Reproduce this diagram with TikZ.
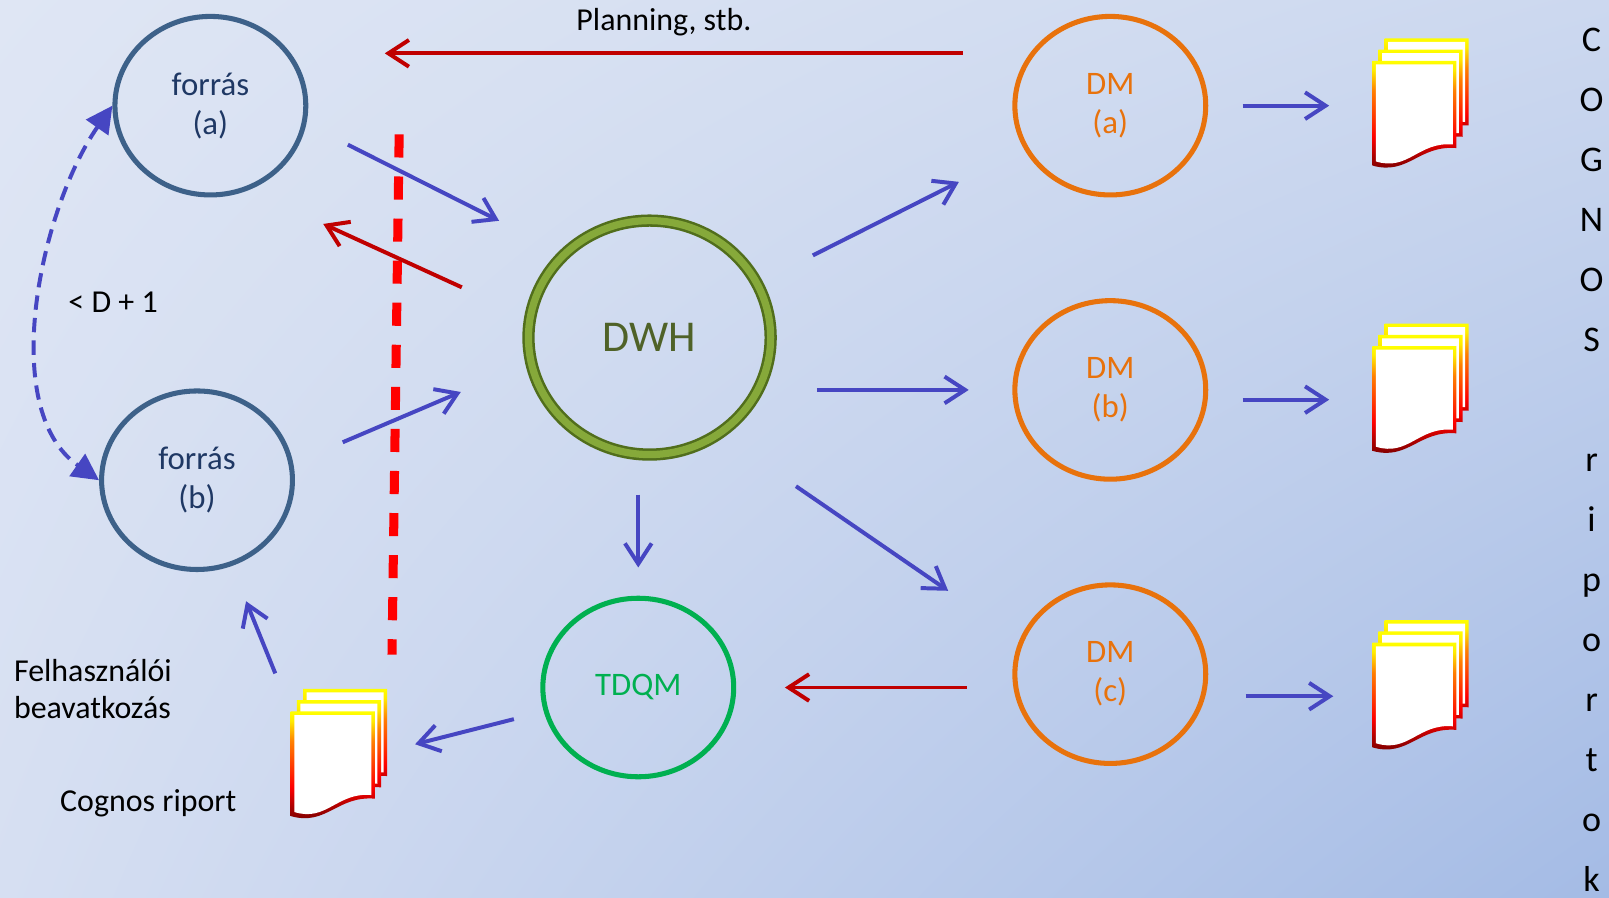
\documentclass[tikz,border=0pt]{standalone}
\usepackage{fontspec}
\setmainfont{Carlito}
\usepackage{tikz}
\usetikzlibrary{calc}
\usetikzlibrary{arrows.meta}
\usetikzlibrary{shapes.geometric}
\usetikzlibrary{shadings}

\definecolor{hatterbf}{HTML}{DFE6F4}
\definecolor{hatterjf}{HTML}{CCD8EF}
\definecolor{hatterba}{HTML}{D6DFF2}
\definecolor{hatterja}{HTML}{A4BBE5}
\definecolor{forraskek}{HTML}{3D6189}
\definecolor{forrasbetu}{HTML}{1F3864}
\definecolor{dmnarancs}{HTML}{E8720C}
\definecolor{tdqmzold}{HTML}{00B050}
\definecolor{dwhsotet}{HTML}{516E1C}
\definecolor{dwhvilagos}{HTML}{86A93A}
\definecolor{dwhbetu}{HTML}{4F6228}
\definecolor{nyilkek}{HTML}{4646C2}
\definecolor{nyilpiros}{HTML}{C00000}
\definecolor{lapsotet}{HTML}{6A0000}

\pgfdeclareverticalshading{lapszel}{100bp}{color(0bp)=(lapsotet); color(25bp)=(lapsotet); color(33bp)=(lapsotet!60!red); color(42bp)=(red); color(52bp)=(red!50!orange); color(62bp)=(orange); color(71bp)=(yellow!85!orange); color(75bp)=(yellow); color(100bp)=(yellow)}

\tikzset{
  forras/.style={ellipse, draw=forraskek, line width=1.4pt, text=forrasbetu,
    minimum width=1.86cm, minimum height=1.74cm, inner sep=0pt, align=center,
    font=\fontsize{9.1}{10.8}\selectfont},
  dm/.style={forras, draw=dmnarancs, text=dmnarancs},
  tdqm/.style={forras, draw=tdqmzold, text=tdqmzold},
  dwh/.style={ellipse, draw=dwhsotet, line width=0.7pt, double=dwhvilagos,
    double distance=2pt, outer sep=1.7pt, minimum width=2.36cm,
    minimum height=2.28cm, text=dwhbetu, font=\fontsize{12.2}{14}\selectfont},
  riport/.style={rectangle, minimum width=0.82cm, minimum height=1.03cm, inner sep=0pt},
  nyil/.style={draw=nyilkek, line width=1.1pt, -{Straight Barb[length=2mm,width=2.6mm]}},
  visszanyil/.style={nyil, draw=nyilpiros},
  ciklus/.style={draw=nyilkek, line width=1.1pt, dash pattern=on 0.14cm off 0.08cm,
    {Triangle[length=2.6mm,width=2.6mm]}-{Triangle[length=2.6mm,width=2.6mm]}},
  valaszto/.style={draw=red, line width=2.5pt, dash pattern=on 0.225cm off 0.185cm},
  felirat/.style={inner sep=0pt, font=\fontsize{8.85}{10.5}\selectfont},
  betu/.style={anchor=base, inner sep=0pt, font=\fontsize{10}{12}\selectfont},
}

\def\lapkulso{(0,0) -- (0.82,0) -- (0.82,-0.85) .. controls (0.45,-0.82) and (0.35,-1.12) .. (0,-1.02) -- cycle}
\def\lapbelso{(0.035,-0.035) -- (0.785,-0.035) -- (0.785,-0.815) .. controls (0.45,-0.785) and (0.35,-1.08) .. (0.035,-0.98) -- cycle}

\begin{document}
\begin{tikzpicture}
    \useasboundingbox (0,0) rectangle (15.68,8.75);
    \shade[upper left=hatterbf, upper right=hatterjf, lower left=hatterba, lower right=hatterja]
        (0,0) rectangle (15.68,8.75);

    \node[forras] (forrasa) at (2.05,7.72) {forrás\\(a)};
    \node[forras] (forrasb) at (1.92,4.07) {forrás\\(b)};
    \node[dwh] (dwh) at (6.33,5.46) {DWH};
    \node[tdqm] (tdqm) at (6.22,2.05) {TDQM};
    \node[dm] (dma) at (10.82,7.72) {DM\\(a)};
    \node[dm] (dmb) at (10.82,4.95) {DM\\(b)};
    \node[dm] (dmc) at (10.82,2.18) {DM\\(c)};
    \node[riport] (doca) at (13.79,7.635) {};
    \node[riport] (docb) at (13.79,4.855) {};
    \node[riport] (docc) at (13.79,1.965) {};
    \node[riport] (cogdoc) at (3.25,1.295) {};

    \foreach \d in {doca,docb,docc,cogdoc}
        \foreach \s in {2,1,0} {
            \begin{scope}[shift={($(\d.north west)+(0.06*\s,0.11*\s)$)}]
                \shade[shading=lapszel] \lapkulso;
                \fill[white] \lapbelso;
            \end{scope}
        }

    \draw[valaszto] (3.89,7.44) -- (3.82,2.37);

    \draw[visszanyil] ([shift={(-0.485,0.51)}]dma.west) -- ([shift={(0.745,0.51)}]forrasa.east);
    \node[felirat, anchor=base] (planning) at (6.47,8.45) {Planning, stb.};

    \draw[nyil] ([shift={(0.385,-0.38)}]forrasa.east) -- ([shift={(-0.59,0.29)}]dwh.north west);
    \draw[visszanyil] ([shift={(-0.59,0.49)}]dwh.west) -- ([shift={(0.425,-0.52)}]forrasa.south east);
    \draw[nyil] ([shift={(0.465,0.37)}]forrasb.east) -- ([shift={(-0.60,-0.53)}]dwh.west);
    \draw[ciklus, looseness=0.85] (forrasa.west) to[out=235, in=145] (forrasb.west);
    \node[felirat, anchor=base west] (dplusz) at (0.66,5.70) {< D + 1};

    \draw[nyil, shorten <=0.55cm, shorten >=0.71cm] (dwh) -- (dma);
    \draw[nyil, shorten <=0.39cm, shorten >=0.425cm] (dwh.east |- dmb.west) -- (dmb.west);
    \draw[nyil] ([shift={(0.55,-0.60)}]dwh.south east) -- ([shift={(-0.905,0.18)}]dmc.north west);
    \draw[nyil, shorten <=0.33cm, shorten >=0.275cm] (dwh.south -| tdqm.north) -- (tdqm.north);
    \draw[visszanyil, shorten <=0.445cm, shorten >=0.475cm] (dmc.west |- tdqm.east) -- (tdqm.east);
    \draw[nyil, shorten <=0.30cm, shorten >=0.39cm] (tdqm) -- (cogdoc);
    \draw[nyil, shorten <=0.40cm, shorten >=0.37cm] (cogdoc.north west) -- (forrasb);

    \draw[nyil, shorten <=0.335cm, shorten >=0.42cm] (dma.east) -- (dma.east -| doca.west);
    \draw[nyil, shorten <=0.335cm, shorten >=0.42cm] (docb.west -| dmb.east) -- (docb.west);
    \draw[nyil, shorten <=0.365cm, shorten >=0.38cm] (docc.west -| dmc.east) -- (docc.west);

    \node[felirat, anchor=west, align=left] (beavatkozas) at (0.13,2.035) {Felhasználói\\beavatkozás};
    \node[felirat, anchor=base west] (cognosriport) at (0.58,0.84) {Cognos riport};

    \foreach \b [count=\i from 0] in {C,O,G,N,O,S}
        \node[betu] (cog\i) at (15.51,8.25-0.585*\i) {\b};
    \foreach \b [count=\i from 7] in {r,i,p,o,r,t,o,k}
        \node[betu] (cog\i) at (15.51,8.25-0.585*\i) {\b};
\end{tikzpicture}
\end{document}
